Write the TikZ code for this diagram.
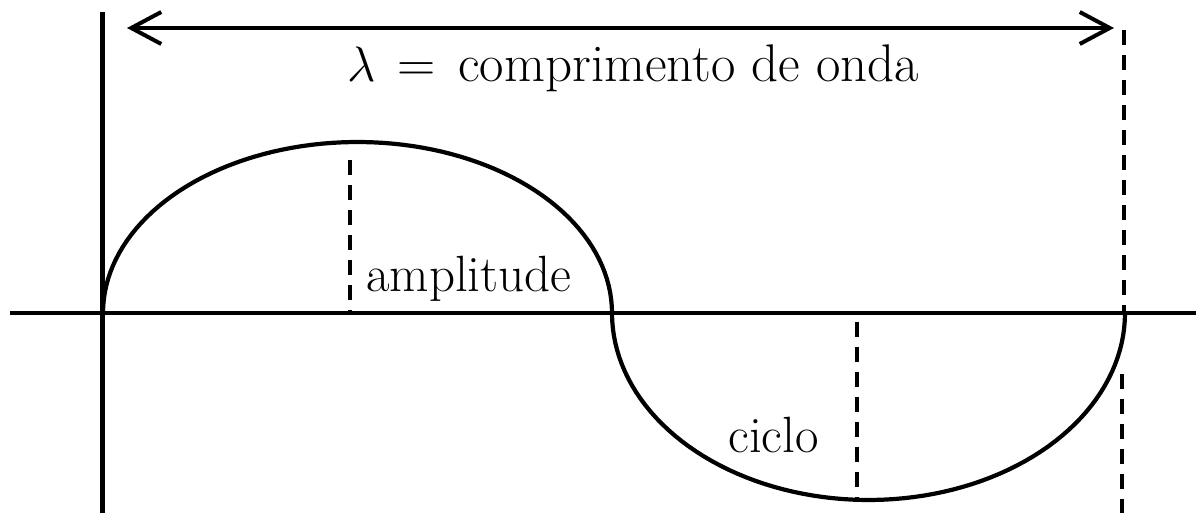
\documentclass[tikz,border=0pt]{standalone}
\usetikzlibrary{arrows.meta}
\begin{document}
\begin{tikzpicture}[x=0.5pt,y=-0.5pt,
  solidline/.style={line width=2.1pt, line cap=round},
  dashline/.style={line width=2.2pt, dash pattern=on 7.5pt off 5pt},
  wavetip/.tip={Straight Barb[length=15pt,width=16pt,line width=2pt]},
  lbl/.style={font=\fontsize{25.5}{30}\selectfont, inner sep=0pt, anchor=base west},
  ttl/.style={font=\fontsize{26.5}{32}\selectfont, inner sep=0pt, anchor=base west}]
\useasboundingbox (0,0) rectangle (1196,513);
% coordinates
\coordinate (axL) at (10,313);
\coordinate (axR) at (1196,313);
\coordinate (vT) at (102,12);
\coordinate (vB) at (102,513);
\coordinate (arL) at (127,28);
\coordinate (arR) at (1114,28);
\coordinate (amT) at (350,160);
\coordinate (amB) at (350,313);
\coordinate (ciT) at (857,322);
\coordinate (ciB) at (857,500);
\coordinate (rT) at (1124,30);
\coordinate (rM) at (1124,313);
\coordinate (rL) at (1122,374);
\coordinate (rB) at (1122,513);
% axis and vertical line
\draw[line width=2.2pt] (axL) -- (axR);
\draw[line width=2.5pt] (vT) -- (vB);
% wave
\draw[solidline] plot[domain=180:0, samples=80] ({357.5+254.5*cos(\x)}, {313-171*sin(\x)});
\draw[solidline] plot[domain=180:360, samples=80] ({868.5+256.5*cos(\x)}, {313-187*sin(\x)});
% dashed lines
\draw[dashline] (amT) -- (amB);
\draw[dashline] (ciT) -- (ciB);
\draw[dashline] (rT) -- (rM);
\draw[dashline] (rL) -- (rB);
% arrow
\draw[line width=2pt, wavetip-wavetip] (arL) -- (arR);
% labels
\node[ttl] (lam) at (347,82) {$\lambda$};
\node[ttl, anchor=base] (eq) at (417,82) {=};
\node[ttl] (txt) at (458,82) {comprimento de onda};
\node[lbl] (amp) at (366,292) {amplitude};
\node[lbl] (cic) at (728,453) {ciclo};
\end{tikzpicture}
\end{document}
